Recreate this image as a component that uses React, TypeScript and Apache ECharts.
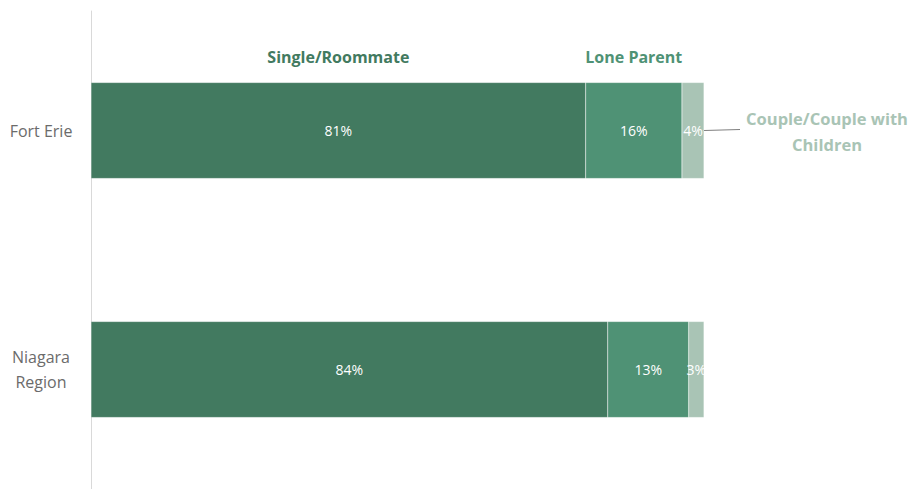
import React, { useEffect, useRef } from "react";
import * as echarts from "echarts";

const categories = ["Fort Erie", "Niagara\nRegion"];
const seriesNames = ["Single/Roommate", "Lone Parent", "Couple/Couple with Children"];
const singleRoommate = [80.7, 84.3];
const loneParent = [15.7, 13.2];
const couple = [3.6, 2.5];
const colors = ["#427A60", "#4F9275", "#A9C4B5"];

export default function App() {
  const ref = useRef<HTMLDivElement>(null);
  useEffect(() => {
    document.body.style.margin = "0";
    if (!ref.current) return;
    const chart = echarts.init(ref.current, undefined, { renderer: "svg" });
    const values = [singleRoommate, loneParent, couple];
    chart.setOption({
      animation: false,
      grid: { left: 91, right: 205, top: 11, height: 483, containLabel: false },
      xAxis: { type: "value", min: 0, max: 100, show: false },
      yAxis: {
        type: "category",
        data: categories,
        inverse: true,
        axisLine: { show: true, lineStyle: { color: "#D9D9D9", width: 1 } },
        axisTick: { show: false },
        axisLabel: {
          color: "#6B6B6B",
          fontFamily: "Open Sans",
          fontSize: 16,
          lineHeight: 25,
          align: "center",
          margin: 50,
        },
      },
      series: values.map((v, i) => ({
        name: seriesNames[i],
        type: "bar",
        stack: "total",
        data: v,
        barWidth: 96,
        itemStyle: { color: colors[i], borderColor: "rgba(255,255,255,0.35)", borderWidth: 0.5 },
        label: {
          show: true,
          position: "inside",
          color: "#FFFFFF",
          fontFamily: "Open Sans",
          fontSize: 14,
          formatter: (p: any) => Math.round(p.value) + "%",
        },
      })),
    });

    // series name annotations placed via the chart's own coordinate system
    const p0a = chart.convertToPixel({ gridIndex: 0 }, [0, 0]) as number[];
    const p0b = chart.convertToPixel({ gridIndex: 0 }, [singleRoommate[0], 0]) as number[];
    const p1b = chart.convertToPixel({ gridIndex: 0 }, [singleRoommate[0] + loneParent[0], 0]) as number[];
    const p2b = chart.convertToPixel(
      { gridIndex: 0 },
      [singleRoommate[0] + loneParent[0] + couple[0], 0]
    ) as number[];
    const labelY = p0a[1] - 74;
    chart.setOption({
      graphic: [
        {
          type: "text",
          x: (p0a[0] + p0b[0]) / 2,
          y: labelY,
          style: {
            text: seriesNames[0],
            fill: colors[0],
            font: "bold 16px 'Open Sans'",
            textAlign: "center",
            textVerticalAlign: "middle",
          },
        },
        {
          type: "text",
          x: (p0b[0] + p1b[0]) / 2,
          y: labelY,
          style: {
            text: seriesNames[1],
            fill: colors[1],
            font: "bold 16px 'Open Sans'",
            textAlign: "center",
            textVerticalAlign: "middle",
          },
        },
        {
          type: "line",
          shape: { x1: p2b[0], y1: p2b[1], x2: p2b[0] + 36, y2: p2b[1] - 1 },
          style: { stroke: "#7F7F7F", lineWidth: 1 },
        },
        {
          type: "text",
          x: p2b[0] + 123,
          y: p2b[1] + 1,
          style: {
            text: "Couple/Couple with\nChildren",
            fill: colors[2],
            font: "bold 16.5px 'Open Sans'",
            lineHeight: 26,
            textAlign: "center",
            textVerticalAlign: "middle",
          },
        },
      ],
    });
    return () => chart.dispose();
  }, []);
  return <div ref={ref} style={{ width: 909, height: 489 }} />;
}
